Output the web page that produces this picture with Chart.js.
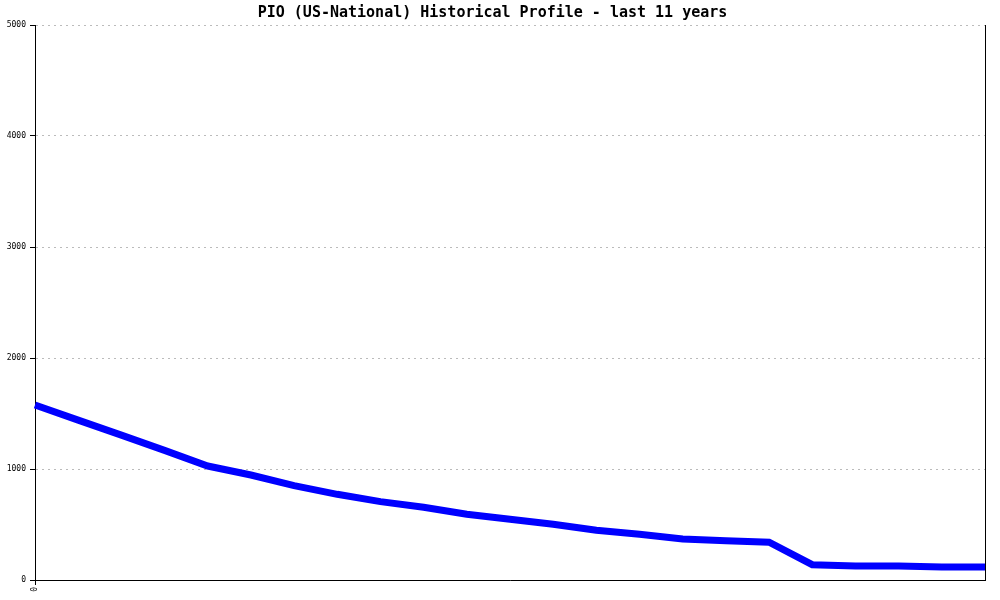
<!DOCTYPE html>
<html>
<head>
<meta charset="utf-8">
<script src="https://cdn.jsdelivr.net/npm/chart.js@4/dist/chart.umd.min.js"></script>
<style>
  html, body { margin: 0; padding: 0; background: #fff; }
  #wrap { width: 1000px; height: 600px; }
</style>
</head>
<body>
<div id="wrap"><canvas id="histChart" width="1000" height="600"></canvas></div>
<script>
// === data: half-year steps over the last 11 years ===
const titleText = 'PIO (US-National) Historical Profile - last 11 years';
const periods = Array.from({ length: 23 }, (_, i) => String(i));
const profile = [1577, 1440, 1305, 1168, 1027, 946, 850, 772, 706, 655, 592, 547,
                 502, 448, 412, 369, 354, 340, 138, 126, 126, 117, 117];
const yTicks = [0, 1000, 2000, 3000, 4000, 5000];

const monoFont = "'DejaVu Sans Mono', 'Liberation Mono', monospace";

const ctx = document.getElementById('histChart').getContext('2d');

new Chart(ctx, {
    type: 'line',
    data: {
        labels: periods,
        datasets: [{
            data: profile,
            borderColor: '#0000ff',
            borderWidth: 7,
            tension: 0,
            pointRadius: 0,
            pointHoverRadius: 0,
            fill: false,
            yAxisID: 'y'
        }]
    },
    options: {
        responsive: false,
        animation: false,
        layout: { padding: { left: 0, right: 15, top: 0, bottom: 0 } },
        plugins: {
            legend: { display: false },
            tooltip: { enabled: false },
            title: {
                display: true,
                text: titleText,
                color: '#000',
                font: { family: monoFont, size: 15, weight: 'bold', lineHeight: 1.2 },
                padding: { top: 4, bottom: 3 }
            }
        },
        scales: {
            x: {
                offset: false,
                grid: {
                    drawOnChartArea: false,
                    drawTicks: true,
                    tickLength: 5,
                    tickColor: (c) => c.index === 0 ? '#000' : 'rgba(0,0,0,0)'
                },
                border: { display: true, color: '#000', width: 1 },
                ticks: {
                    autoSkip: false,
                    maxRotation: 90,
                    minRotation: 90,
                    padding: 2,
                    color: '#000',
                    font: { family: monoFont, size: 8 },
                    callback: (v, i) => i === 0 ? '0' : ''
                },
                afterFit: (s) => { s.height = 20; }
            },
            y: {
                min: 0,
                max: 5000,
                afterBuildTicks: (s) => { s.ticks = yTicks.map(v => ({ value: v })); },
                grid: {
                    color: '#bbbbbb',
                    tickLength: 5,
                    tickColor: '#000',
                    tickBorderDash: []
                },
                border: { display: true, color: '#000', width: 1, dash: [2, 4] },
                ticks: {
                    padding: 4,
                    color: '#000',
                    font: { family: monoFont, size: 8 },
                    callback: (v) => String(v)
                },
                afterFit: (s) => { s.width = 35; }
            },
            y2: {
                position: 'right',
                min: 0,
                max: 5000,
                grid: { display: false },
                ticks: { display: false },
                border: { display: true, color: '#000', width: 1 },
                afterFit: (s) => { s.width = 0; }
            }
        }
    }
});
</script>
</body>
</html>
